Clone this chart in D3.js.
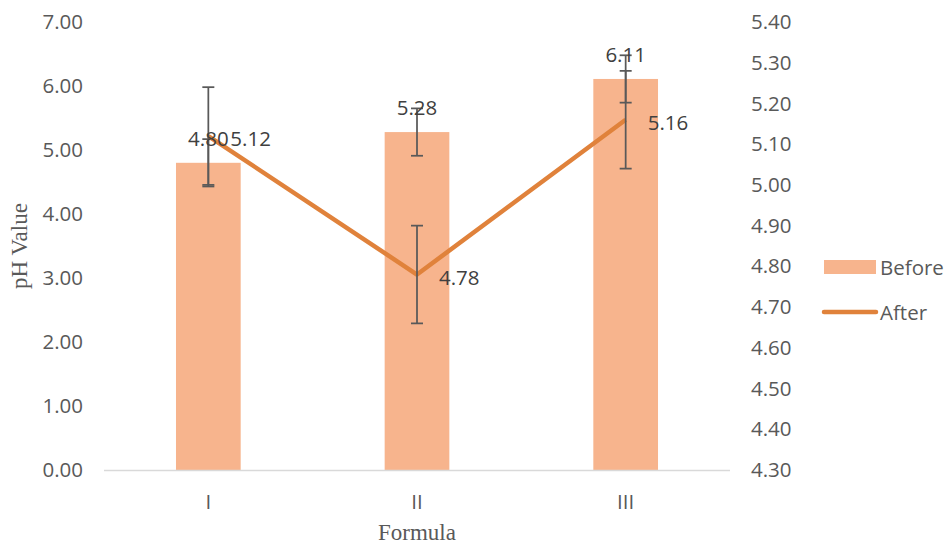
<!DOCTYPE html>
<html><head><meta charset="utf-8">
<script src="https://cdn.jsdelivr.net/npm/d3@7"></script>
<style>body{margin:0;background:#fff}svg{display:block}</style>
</head><body>
<svg id="c" width="948" height="547"></svg>
<script>
const categories = ["I", "II", "III"];
const beforeValues = [4.80, 5.28, 6.11];
const beforeErrors = [0.37, 0.37, 0.37];
const afterValues = [5.12, 4.78, 5.16];
const afterErrors = [0.12, 0.12, 0.12];
const leftTicks = [0, 1, 2, 3, 4, 5, 6, 7];
const rightTicks = [4.3, 4.4, 4.5, 4.6, 4.7, 4.8, 4.9, 5.0, 5.1, 5.2, 5.3, 5.4];
const seriesNames = ["Before", "After"];

const svg = d3.select("#c");
const font = "'Open Sans', sans-serif";
const fs = 20.5;
const txt = "#595959";
const barColor = "#F7B48D";
const lineColor = "#E0823B";

const x = d3.scaleBand().domain(categories).range([104, 730]).paddingInner(0.69).paddingOuter(0.345);
const yL = d3.scaleLinear().domain([0, 7]).range([470, 22]);
const yR = d3.scaleLinear().domain([4.3, 5.4]).range([470, 22]);
const cx = c => x(c) + x.bandwidth() / 2;

// left axis
const la = svg.append("g").attr("transform", "translate(83,0)")
  .call(d3.axisLeft(yL).tickValues(leftTicks).tickFormat(d3.format(".2f")).tickSize(0).tickPadding(0));
la.select(".domain").remove();
la.selectAll("text").attr("font-family", font).attr("font-size", fs).attr("fill", txt);

// right axis
const ra = svg.append("g").attr("transform", "translate(751,0)")
  .call(d3.axisRight(yR).tickValues(rightTicks).tickFormat(d3.format(".2f")).tickSize(0).tickPadding(0));
ra.select(".domain").remove();
ra.selectAll("text").attr("font-family", font).attr("font-size", fs).attr("fill", txt);

// bars
svg.append("g").selectAll("rect").data(categories).join("rect")
  .attr("x", d => x(d)).attr("width", x.bandwidth())
  .attr("y", (d, i) => yL(beforeValues[i]))
  .attr("height", (d, i) => yL(0) - yL(beforeValues[i]))
  .attr("fill", barColor);

// x axis baseline
const xa = svg.append("g").attr("transform", "translate(0,470)")
  .call(d3.axisBottom(x).tickSize(0).tickPadding(24));
xa.select(".domain").attr("stroke", "#D9D9D9").attr("stroke-width", 1.5).attr("d", "M104,0.5H730");
xa.selectAll("text").attr("font-family", font).attr("font-size", fs).attr("fill", txt);

// error bars helper
function errBars(g, vals, errs, scale) {
  categories.forEach((c, i) => {
    const X = cx(c), y1 = scale(vals[i] + errs[i]), y2 = scale(vals[i] - errs[i]);
    g.append("line").attr("x1", X).attr("x2", X).attr("y1", y1).attr("y2", y2);
    g.append("line").attr("x1", X - 6).attr("x2", X + 6).attr("y1", y1).attr("y2", y1);
    g.append("line").attr("x1", X - 6).attr("x2", X + 6).attr("y1", y2).attr("y2", y2);
  });
}
const eb1 = svg.append("g").attr("stroke", "#595959").attr("stroke-width", 1.75);
errBars(eb1, beforeValues, beforeErrors, yL);

// line
const line = d3.line().x((d, i) => cx(categories[i])).y(d => yR(d));
svg.append("path").datum(afterValues).attr("d", line)
  .attr("fill", "none").attr("stroke", lineColor).attr("stroke-width", 4.5).attr("stroke-linejoin", "round");

const eb2 = svg.append("g").attr("stroke", "#595959").attr("stroke-width", 1.75);
errBars(eb2, afterValues, afterErrors, yR);

// data labels
svg.append("g").selectAll("text").data(categories).join("text")
  .attr("x", d => cx(d)).attr("y", (d, i) => yL(beforeValues[i]) - 25)
  .attr("text-anchor", "middle").attr("dominant-baseline", "central")
  .attr("font-family", font).attr("font-size", fs).attr("fill", "#404040")
  .text((d, i) => beforeValues[i].toFixed(2));
svg.append("g").selectAll("text").data(categories).join("text")
  .attr("x", d => cx(d) + 22).attr("y", (d, i) => yR(afterValues[i]) + 2)
  .attr("text-anchor", "start").attr("dominant-baseline", "central")
  .attr("font-family", font).attr("font-size", fs).attr("fill", "#404040")
  .text((d, i) => afterValues[i].toFixed(2));

// axis titles
svg.append("text").attr("x", 417).attr("y", 540).attr("text-anchor", "middle")
  .attr("font-family", "'Liberation Serif', serif").attr("font-size", 23).attr("fill", txt).text("Formula");
svg.append("text").attr("transform", "translate(27,246) rotate(-90)").attr("text-anchor", "middle")
  .attr("font-family", "'Liberation Serif', serif").attr("font-size", 23).attr("fill", txt).text("pH Value");

// legend
const lg = svg.append("g");
lg.append("rect").attr("x", 824).attr("y", 260).attr("width", 52).attr("height", 14).attr("fill", barColor);
lg.append("text").attr("x", 880).attr("y", 267).attr("dominant-baseline", "central")
  .attr("font-family", font).attr("font-size", fs).attr("fill", txt).text(seriesNames[0]);
lg.append("line").attr("x1", 824).attr("x2", 876).attr("y1", 312).attr("y2", 312)
  .attr("stroke", lineColor).attr("stroke-width", 4.5).attr("stroke-linecap", "round");
lg.append("text").attr("x", 880).attr("y", 312).attr("dominant-baseline", "central")
  .attr("font-family", font).attr("font-size", fs).attr("fill", txt).text(seriesNames[1]);
</script>
</body></html>
